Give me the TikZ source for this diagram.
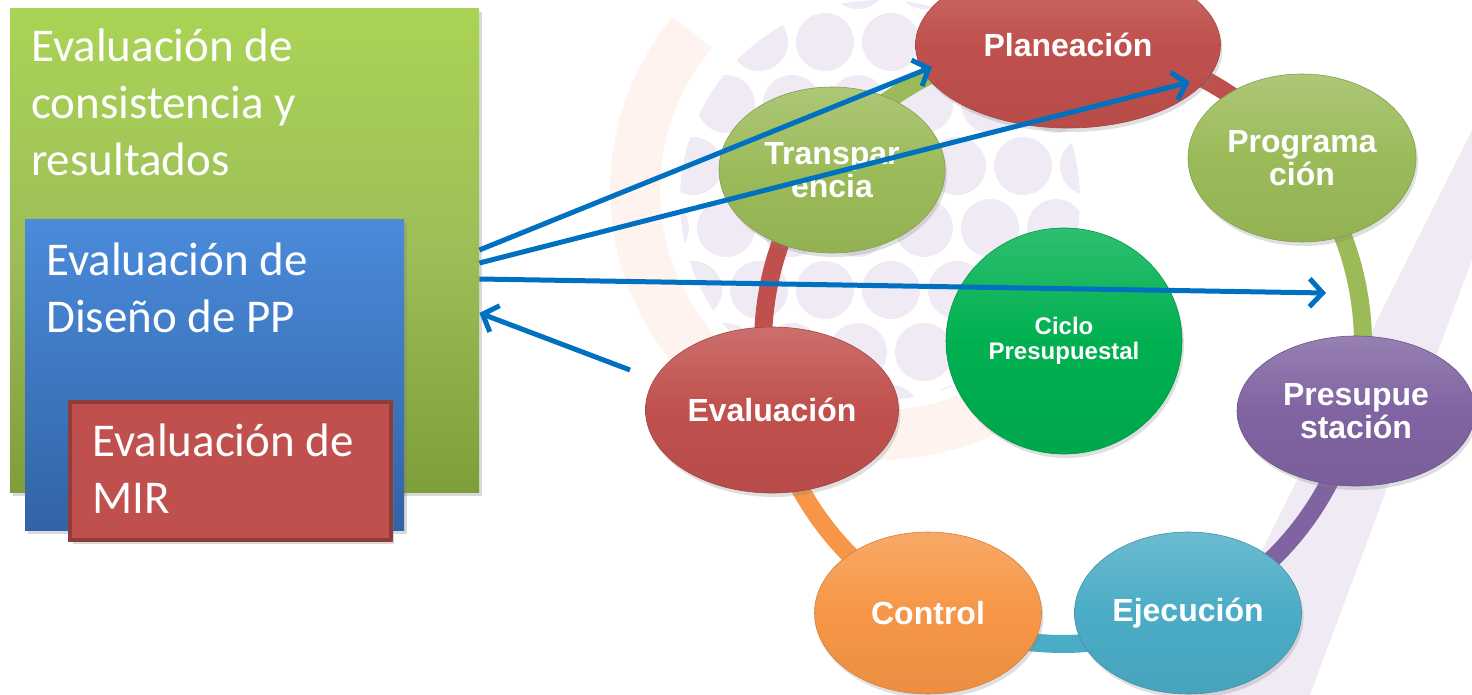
\documentclass[tikz,border=0pt]{standalone}
\usepackage{fontspec}
\setmainfont{Carlito}
\newfontfamily\bubfont{Liberation Sans}
\usetikzlibrary{shapes.geometric,arrows.meta,shadows}

\definecolor{rojo}{HTML}{C0504D}
\definecolor{verde}{HTML}{9BBB59}
\definecolor{morado}{HTML}{8064A2}
\definecolor{turq}{HTML}{4BACC6}
\definecolor{naranja}{HTML}{F79646}
\definecolor{verdec}{HTML}{00B050}
\definecolor{flecha}{HTML}{0070C0}
\definecolor{lila}{HTML}{EFEAF4}
\definecolor{durazno}{HTML}{FEF3EE}
\definecolor{verdearr}{HTML}{AAD455}
\definecolor{verdeab}{HTML}{7E9E3A}
\definecolor{azularr}{HTML}{4A8BDB}
\definecolor{azulab}{HTML}{3263A5}

\tikzset{
    caja/.style={anchor=north west, inner sep=0pt,
      drop shadow={opacity=0.3,shadow xshift=3pt,shadow yshift=-4pt}},
    texto/.style={text=white, font=\fontsize{47}{57}\selectfont, align=left,
      anchor=base west, inner sep=0pt},
    burbuja/.style={ellipse, inner sep=0pt, draw=#1!85!black, line width=0.6pt,
      top color=#1!82!white, bottom color=#1!95!black, middle color=#1,
      drop shadow={opacity=0.25,shadow xshift=2pt,shadow yshift=-4pt},
      text=white, align=center, font=\bubfont\bfseries\fontsize{32}{33}\selectfont},
    anillo/.style={line width=18pt, draw=#1},
    flechaazul/.style={draw=flecha, line width=5pt,
      -{Straight Barb[length=13pt,width=28pt]}},
  }

\begin{document}
\begin{tikzpicture}[x=1pt,y=-1pt]
  \useasboundingbox (0,0) rectangle (1472,695);
  \clip (0,0) rectangle (1472,695);

  %FONDO
  \begin{scope}
    \clip (880,200) circle (200);
    \foreach \i in {0,...,7}
      \foreach \j in {0,...,7}
        \fill[lila] ({660+66*\i+33*mod(\j,2)},{-20+62*\j}) circle (29);
  \end{scope}
  \draw[durazno, line width=50pt] plot[domain=60:220, samples=40] ({880+245*cos(\x)},{190+245*sin(\x)});
  \fill[lila] (1472,130) -- (1472,260) -- (1310,695) -- (1190,695) -- cycle;

  %CAJAS
  \node[caja, minimum width=469pt, minimum height=484pt,
    top color=verdearr, bottom color=verdeab, middle color=verde!90!verdearr] (consist) at (10,8) {};
  \node[texto] (tconsist) at (31,176) {Evaluación de\\consistencia y\\resultados};

  \node[caja, minimum width=379pt, minimum height=311pt,
    top color=azularr, bottom color=azulab] (diseno) at (25,219) {};
  \node[texto] (tdiseno) at (46,332) {Evaluación de\\Diseño de PP};

  \node[caja, minimum width=321pt, minimum height=138pt, fill=rojo,
    draw=rojo!75!black, line width=4pt] (mir) at (68,400) {};
  \node[texto] (tmir) at (92,513) {Evaluación de\\MIR};

  %ANILLO
  \foreach \k/\c in {0/rojo,1/verde,2/morado,3/turq,4/naranja,5/rojo,6/verde}{
    \pgfmathsetmacro\ai{90-51.43*(\k+1)}
    \pgfmathsetmacro\af{90-51.43*\k}
    \draw[anillo=\c] plot[domain=\ai:\af, samples=30] ({1063+300*cos(\x)},{344-300*sin(\x)});
  }

  %ETAPAS
  \node[burbuja=rojo, minimum width=305pt, minimum height=166pt] (plan) at (1068,45) {Planeación};
  \node[burbuja=verde, minimum width=228pt, minimum height=168pt] (prog) at (1302,158) {Programa\\ción};
  \node[burbuja=morado, minimum width=238pt, minimum height=150pt] (presup) at (1356,411) {Presupue\\stación};
  \node[burbuja=turq, minimum width=227pt, minimum height=162pt] (ejec) at (1188,613) {Ejecución};
  \node[burbuja=naranja, minimum width=227pt, minimum height=162pt] (control) at (928,613) {Control};
  \node[burbuja=rojo, minimum width=253pt, minimum height=166pt] (eval) at (772,410) {Evaluación};
  \node[burbuja=verde, minimum width=226pt, minimum height=166pt] (transp) at (832,170) {Transpar\\encia};
  \node[burbuja=verdec, minimum width=236pt, minimum height=226pt,
    font=\bubfont\bfseries\fontsize{24}{25}\selectfont] (ciclo) at (1064,341) {Ciclo\\Presupuestal};

  %FLECHAS
  \coordinate (pA) at (932,67);
  \coordinate (pB) at (1190,82);
  \coordinate (pC) at (1326,293);
  \coordinate (pD) at (630,370);
  \draw[flechaazul] (consist.east |- 0,250) -- (pA);
  \draw[flechaazul] (consist.east |- 0,263) -- (pB);
  \draw[flechaazul] (consist.east |- 0,279) -- (pC);
  \draw[flechaazul] (pD) -- (consist.east |- 0,313);
\end{tikzpicture}
\end{document}
